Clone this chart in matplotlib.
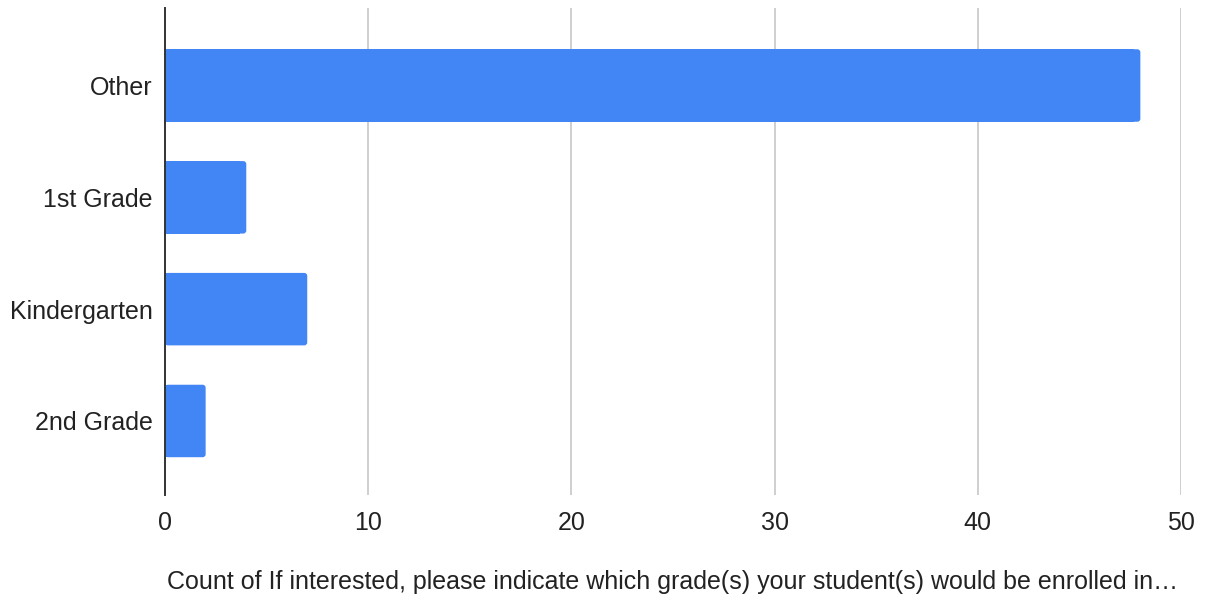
import matplotlib
matplotlib.use("Agg")
import matplotlib.pyplot as plt
from matplotlib.patches import FancyBboxPatch

plt.rcParams['font.family'] = ['Liberation Sans', 'DejaVu Sans']

categories = ["Other", "1st Grade", "Kindergarten", "2nd Grade"]
values = [48, 4, 7, 2]
x_ticks = [0, 10, 20, 30, 40, 50]
x_label = "Count of If interested, please indicate which grade(s) your student(s) would be enrolled in…"

BAR_COLOR = "#4285F4"
TEXT_COLOR = "#222222"

W, H = 1208, 599
fig = plt.figure(figsize=(W / 100, H / 100), dpi=100)
ax = fig.add_axes([165 / W, 1 - 495 / H, (1181 - 165) / W, (495 - 8) / H])

ypos = list(range(len(categories)))
bars = ax.barh(ypos, values, height=0.648, color=BAR_COLOR, zorder=3, linewidth=0)

ax.set_xlim(0, 50)
ax.set_ylim(3.662, -0.693)

# rounded right ends
rx = 3 / 20.32
ry = 3 / 111.8
for rect in bars.patches:
    x0, y0 = rect.get_x(), rect.get_y()
    w, h = rect.get_width(), rect.get_height()
    rect.set_width(max(w - 2 * rx, 0))
    cap = FancyBboxPatch((x0, y0), w, h,
                         boxstyle=f"round,pad=0,rounding_size={rx}",
                         mutation_aspect=ry / rx,
                         facecolor=BAR_COLOR, edgecolor='none', zorder=3)
    ax.add_patch(cap)

ax.set_xticks(x_ticks)
ax.set_xticklabels([str(t) for t in x_ticks])
ax.set_yticks(ypos)
ax.set_yticklabels(categories)

ax.tick_params(axis='y', length=0, pad=9, labelsize=18, labelcolor=TEXT_COLOR)
ax.tick_params(axis='x', length=0, pad=11.5, labelsize=18, labelcolor=TEXT_COLOR)

ax.grid(axis='x', color='#cccccc', linewidth=1.3, zorder=0)
ax.grid(axis='y', visible=False)
for s in ['top', 'right', 'bottom']:
    ax.spines[s].set_visible(False)
ax.spines['left'].set_color('#333333')
ax.spines['left'].set_linewidth(1.4)
ax.spines['left'].set_zorder(4)

fig.text((165 + 1181) / 2 / W, 1 - 582 / H, x_label, ha='center', va='center',
         fontsize=18, color=TEXT_COLOR)

fig.savefig("out.png", dpi=100, facecolor='white')
